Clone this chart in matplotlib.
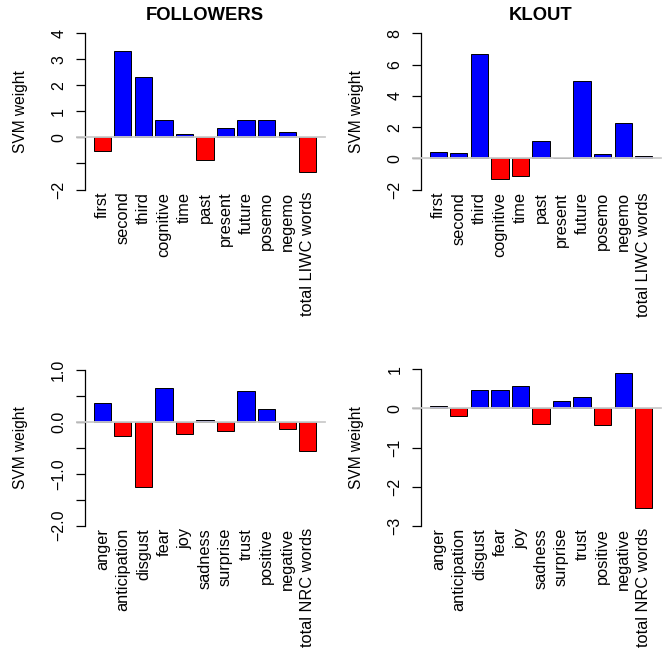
import matplotlib
matplotlib.use("Agg")
import matplotlib.pyplot as plt
import numpy as np

plt.rcParams['font.family'] = ['Liberation Sans', 'DejaVu Sans']

liwc_labels = ['first', 'second', 'third', 'cognitive', 'time', 'past',
               'present', 'future', 'posemo', 'negemo', 'total LIWC words']
followers_liwc = [-0.52, 3.32, 2.33, 0.66, 0.14, -0.85, 0.37, 0.68, 0.67, 0.22, -1.32]
klout_liwc = [0.38, 0.37, 6.65, -1.32, -1.13, 1.11, 0.05, 4.98, 0.28, 2.28, 0.15]

nrc_labels = ['anger', 'anticipation', 'disgust', 'fear', 'joy', 'sadness',
              'surprise', 'trust', 'positive', 'negative', 'total NRC words']
followers_nrc = [0.37, -0.28, -1.26, 0.65, -0.23, 0.04, -0.18, 0.60, 0.24, -0.13, -0.56]
klout_nrc = [0.05, -0.20, 0.47, 0.47, 0.57, -0.40, 0.19, 0.28, -0.43, 0.90, -2.56]

W, H = 668, 654
fig = plt.figure(figsize=(W / 100, H / 100), dpi=100)


def panel(px_left, px_top, px_bottom, labels, values, ticks, ticklabels, title=None):
  # pixel box -> figure fraction
  ax = fig.add_axes([px_left / W, 1 - px_bottom / H, 240 / W, (px_bottom - px_top) / H])
  n = len(values)
  x = 0.7 + 1.2 * np.arange(n)
  vals = np.asarray(values)
  cols = np.where(vals < 0, 'red', 'blue')
  ax.bar(x, vals, width=1.0, color=cols, edgecolor='black', linewidth=0.7, zorder=2)
  ax.axhline(0, xmin=-0.035, xmax=1, color='#CCCCCC', linewidth=1.3, clip_on=False, zorder=3)
  ax.set_xlim(0.2 - 0.52, 0.2 + 1.2 * n - 0.2 + 0.52)
  ax.set_ylim(ticks[-1], ticks[0])
  for s in ['top', 'right', 'bottom']:
    ax.spines[s].set_visible(False)
  ax.spines['left'].set_linewidth(0.9)
  ax.spines['left'].set_bounds(ticks[-1], ticks[0])
  ax.set_yticks(ticks)
  ax.set_yticklabels(ticklabels)
  for lbl in ax.get_yticklabels():
    lbl.set_rotation(90)
    lbl.set_va('center')
  ax.tick_params(axis='y', length=6.5, width=0.9, pad=7, labelsize=11.5)
  ax.set_xticks(x)
  ax.set_xticklabels(labels, rotation=90, va='top', ha='center')
  ax.tick_params(axis='x', length=0, pad=1.6, labelsize=11.8)
  ax.text(-0.267, 0.5, 'SVM weight', transform=ax.transAxes, rotation=90,
          ha='center', va='center', fontsize=11.2)
  if title:
    h = px_bottom - px_top
    ax.text(0.5, 1 + 18 / h, title, transform=ax.transAxes, ha='center',
            va='center', fontsize=13.3, fontweight='bold')
  return ax


panel(85, 33, 189.5, liwc_labels, followers_liwc,
      [4, 3, 2, 1, 0, -1, -2], ['4', '3', '2', '1', '0', '', '\u22122'], 'FOLLOWERS')
panel(421, 33.3, 189.7, liwc_labels, klout_liwc,
      [8, 6, 4, 2, 0, -2], ['8', '6', '4', '2', '0', '\u22122'], 'KLOUT')
panel(85, 370, 525.7, nrc_labels, followers_nrc,
      [1.0, 0.5, 0.0, -0.5, -1.0, -1.5, -2.0],
      ['1.0', '', '0.0', '', '\u22121.0', '', '\u22122.0'])
panel(421, 369.3, 525.7, nrc_labels, klout_nrc,
      [1, 0, -1, -2, -3], ['1', '0', '\u22121', '\u22122', '\u22123'])

fig.savefig('out.png', dpi=100)
